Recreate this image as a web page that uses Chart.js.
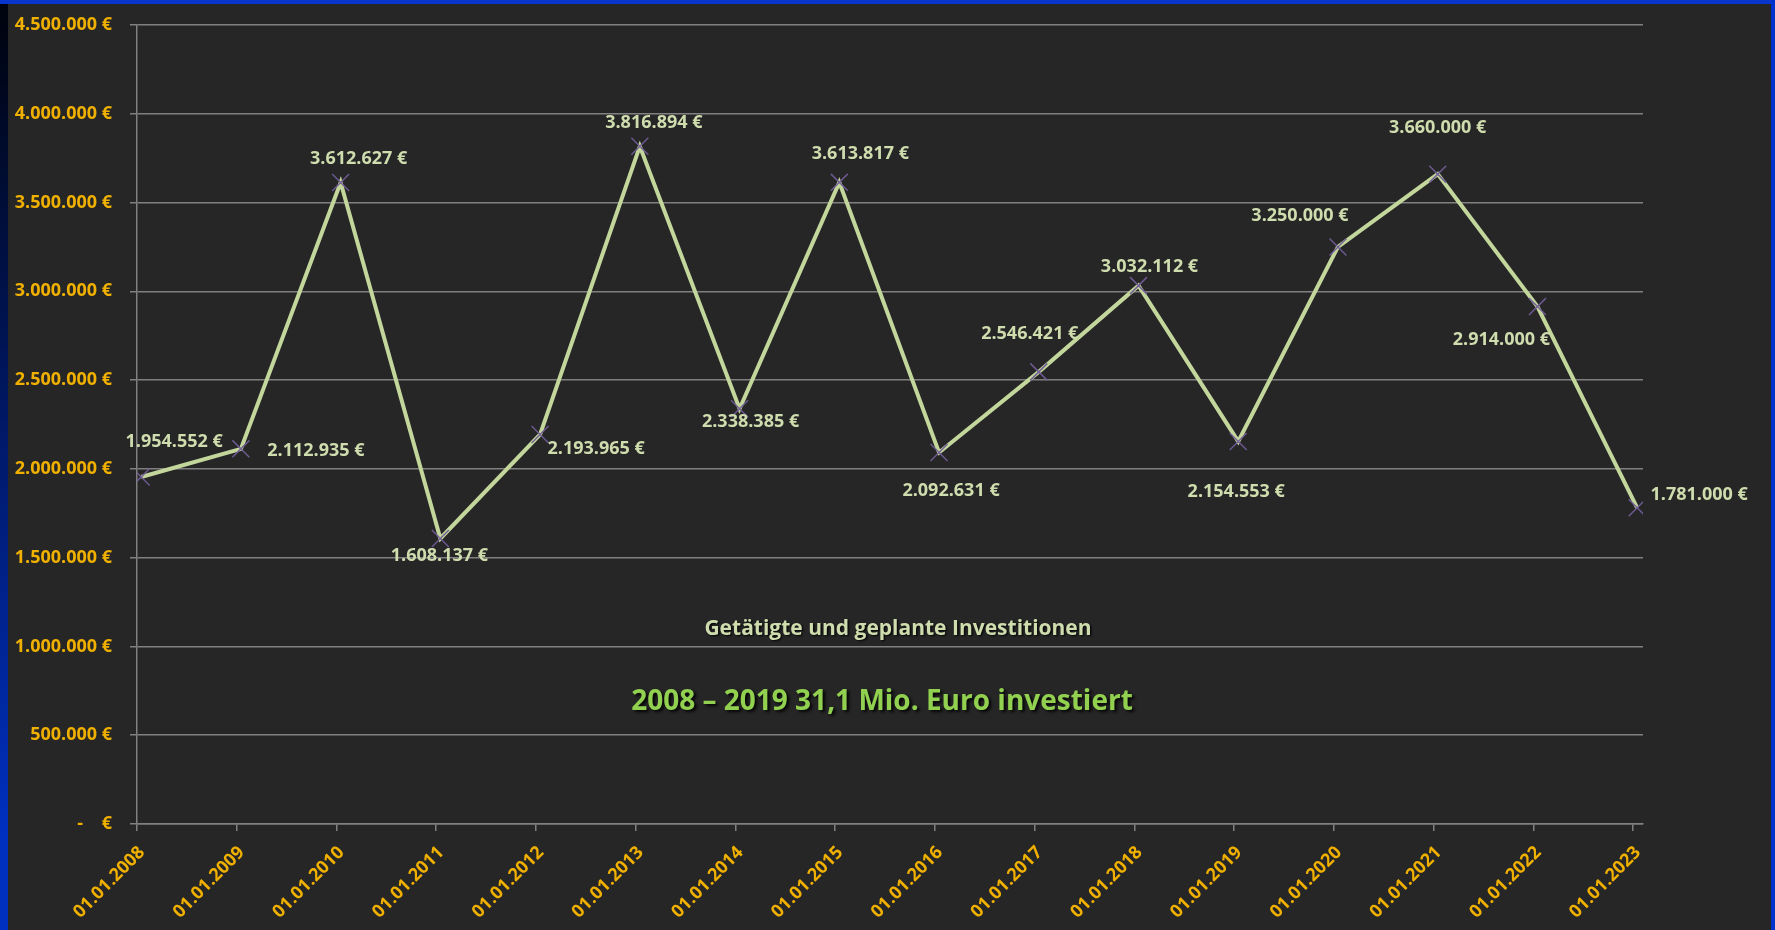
<!DOCTYPE html>
<html><head><meta charset="utf-8">
<script src="https://cdn.jsdelivr.net/npm/chart.js@4.4.1/dist/chart.umd.min.js"></script>
<style>html,body{margin:0;padding:0;background:#262626;overflow:hidden}canvas{display:block}</style>
</head><body>
<canvas id="c" width="1775" height="930"></canvas>
<script>
const categories = ['01.01.2008','01.01.2009','01.01.2010','01.01.2011','01.01.2012','01.01.2013','01.01.2014','01.01.2015','01.01.2016','01.01.2017','01.01.2018','01.01.2019','01.01.2020','01.01.2021','01.01.2022','01.01.2023'];
const investments = [1954552, 2112935, 3612627, 1608137, 2193965, 3816894, 2338385, 3613817, 2092631, 2546421, 3032112, 2154553, 3250000, 3660000, 2914000, 1781000];
const yTickValues = [0, 500000, 1000000, 1500000, 2000000, 2500000, 3000000, 3500000, 4000000, 4500000];
const xTickLabels = categories;
const chartTitle = 'Getätigte und geplante Investitionen';
const chartNote = '2008 – 2019 31,1 Mio. Euro investiert';
// data label placement relative to its point (px)
const labelOffsets = [[33,-35],[75,2],[18,-24],[-1,17],[56,14],[14,-23],[11,13],[21,-28],[12,38],[-9,-38],[11,-19],[-2,50],[-38,-31],[0,-46],[-36,33],[62,-13]];

const FONT = '"Open Sans", "Noto Sans", sans-serif';
function monthIndex(d){ const p = d.split('.').map(Number); return (p[2]-2008)*12 + (p[1]-1); }
function euro(v){ if (v === 0) return '-    €'; return String(Math.round(v)).replace(/\B(?=(\d{3})+(?!\d))/g,'.') + ' €'; }

const bgPlugin = {
  id: 'bg',
  beforeDraw(chart){
    const ctx = chart.ctx, W = chart.width, H = chart.height;
    ctx.save();
    ctx.fillStyle = '#262626'; ctx.fillRect(0,0,W,H);
    const g = ctx.createLinearGradient(0,0,0,H);
    g.addColorStop(0,'#00030c'); g.addColorStop(0.5,'#001a6e'); g.addColorStop(0.9,'#0030c0'); g.addColorStop(1,'#0030c0');
    ctx.fillStyle = g; ctx.fillRect(0,0,8,H);
    ctx.fillStyle = '#0836cc'; ctx.fillRect(0,0,W,4);
    ctx.fillStyle = '#0033cc'; ctx.fillRect(W-4,0,4,H);
    ctx.restore();
  }
};

const labelPlugin = {
  id: 'labels',
  afterDatasetsDraw(chart){
    const ctx = chart.ctx, meta = chart.getDatasetMeta(0), a = chart.chartArea;
    ctx.save();
    ctx.font = 'bold 18px ' + FONT;
    ctx.fillStyle = '#cfdcae';
    ctx.textAlign = 'center'; ctx.textBaseline = 'middle';
    meta.data.forEach((pt, i) => {
      const o = labelOffsets[i];
      ctx.fillText(euro(investments[i]), pt.x + o[0], pt.y + o[1]);
    });
    const cx = (a.left + a.right) / 2;
    ctx.shadowColor = 'rgba(0,0,0,0.85)'; ctx.shadowOffsetX = 1.5; ctx.shadowOffsetY = 1.5; ctx.shadowBlur = 2;
    ctx.font = 'bold 21px ' + FONT;
    ctx.fillStyle = '#cfdcae';
    ctx.fillText(chartTitle, cx + 8, a.top + 604);
    ctx.shadowOffsetX = 2.5; ctx.shadowOffsetY = 2.5; ctx.shadowBlur = 3;
    ctx.font = 'bold 28px ' + FONT;
    ctx.fillStyle = '#92d050';
    ctx.fillText(chartNote, cx - 8, a.top + 677);
    ctx.restore();
  }
};

new Chart(document.getElementById('c'), {
  type: 'line',
  data: {
    datasets: [{
      data: categories.map((c, i) => ({ x: monthIndex(c) + 0.5, y: investments[i] })),
      borderColor: '#c3d69b',
      borderWidth: 4,
      borderJoinStyle: 'miter',
      tension: 0,
      fill: false,
      pointStyle: 'crossRot',
      pointRadius: 12,
      pointHoverRadius: 12,
      pointBorderColor: 'rgba(112,92,150,0.95)',
      pointBorderWidth: 1.5,
      pointBackgroundColor: 'rgba(0,0,0,0)'
    }]
  },
  options: {
    responsive: false,
    animation: false,
    devicePixelRatio: 1,
    layout: { padding: { left: 0, right: 132, top: 25, bottom: 0 } },
    plugins: { legend: { display: false }, tooltip: { enabled: false } },
    events: [],
    scales: {
      x: {
        type: 'linear',
        min: 0,
        max: monthIndex(categories[categories.length-1]) + 1.2,
        afterBuildTicks(scale){ scale.ticks = categories.map(c => ({ value: monthIndex(c) })); },
        afterFit(scale){ scale.height = 106; scale.paddingLeft = 0; scale.paddingRight = 0; },
        grid: { drawOnChartArea: false, drawTicks: true, tickLength: 7, color: '#808080', lineWidth: 1.5 },
        border: { display: true, color: '#808080', width: 1.5 },
        ticks: {
          autoSkip: false, minRotation: 45, maxRotation: 45, padding: 11, labelOffset: 5,
          color: '#f0b000', font: { family: FONT, weight: 'bold', size: 18 },
          callback: (v, i) => xTickLabels[i]
        }
      },
      y: {
        min: 0, max: 4500000,
        afterBuildTicks(scale){ scale.ticks = yTickValues.map(v => ({ value: v })); },
        afterFit(scale){ scale.width = 137; scale.paddingTop = 0; scale.paddingBottom = 0; },
        grid: { color: '#808080', lineWidth: 1.5, tickLength: 7, drawTicks: true },
        border: { display: true, color: '#808080', width: 1.5 },
        ticks: {
          padding: 18, color: '#f0b000', font: { family: FONT, weight: 'bold', size: 18 },
          callback: v => euro(v)
        }
      }
    }
  },
  plugins: [bgPlugin, labelPlugin]
});
</script>
</body></html>
